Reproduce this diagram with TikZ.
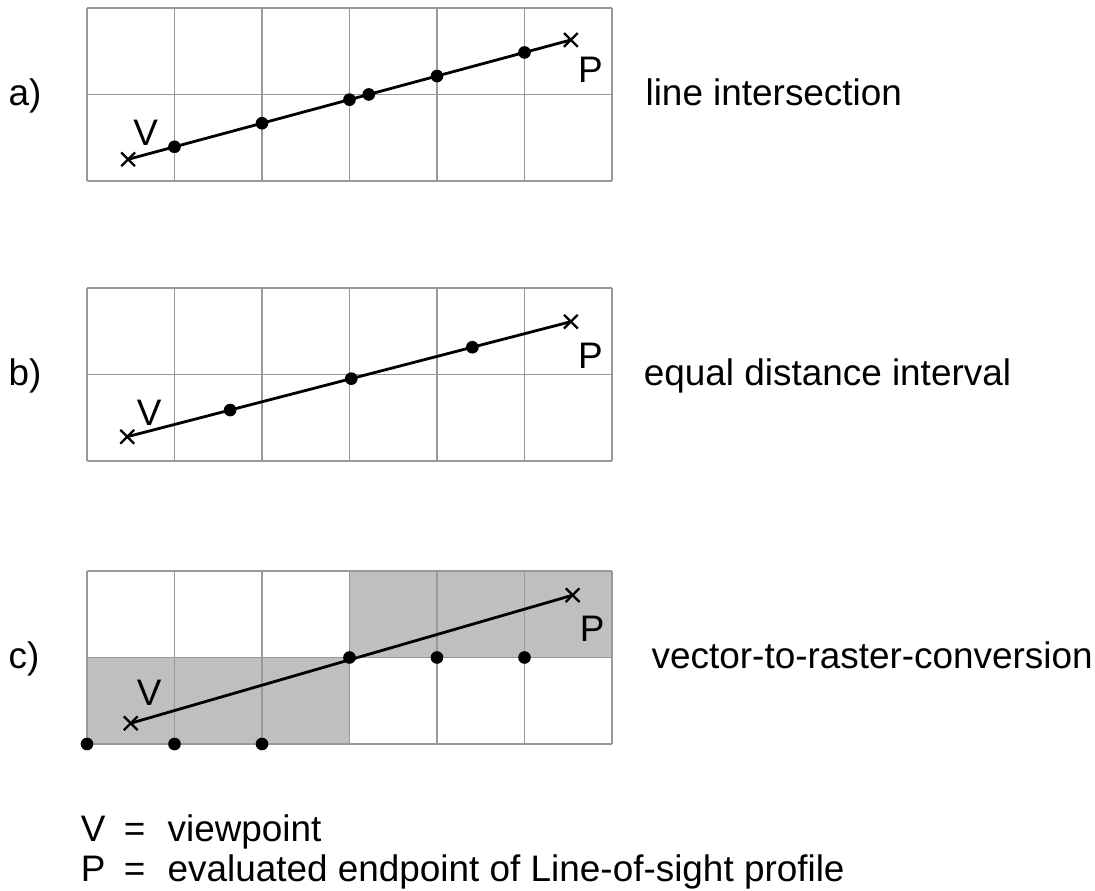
\documentclass[tikz,border=0pt]{standalone}
\usepackage{fontspec}
\setmainfont{Liberation Sans}
\usetikzlibrary{positioning,shapes.misc,calc}

\tikzset{
  cell/.style={step=1,black!40,line width=0.8pt},
  sight/.style={line width=1.6pt},
  endmark/.style={cross out,draw,line width=1.3pt,minimum size=0.23cm,inner sep=0pt},
  lbl/.style={inner sep=0pt,font=\fontsize{21}{25}\selectfont},
  caption/.style={lbl,anchor=base west},
  raster/.style={fill=black!25}
}

\begin{document}
\begin{tikzpicture}[x=1.75cm,y=1.73cm]
\useasboundingbox (0,0) rectangle (12.514,10.289);

% a) line intersection
\begin{scope}[shift={(0.994,8.197)}]
  \draw[cell] (0,0) grid (6,2);
  \node[endmark] (Va) at (0.47,0.25) {};
  \node[endmark] (Pa) at (5.53,1.63) {};
  \draw[sight] (Va.center) -- (Pa.center);
  \foreach \i in {1,...,5}
    \fill (intersection of Va.center--Pa.center and \i,0--\i,2) circle (3.6pt);
  \fill (intersection of Va.center--Pa.center and 0,1--6,1) circle (3.6pt);
  \node[lbl,above right=0.14cm and -0.04cm of Va] (Va-lbl) {V};
  \node[lbl,below right=0.2cm and 0cm of Pa] (Pa-lbl) {P};
  \node[caption] (a-tag) at (-0.9,0.87) {a)};
  \node[caption] (a-txt) at (6.38,0.87) {line intersection};
\end{scope}

% b) equal distance interval
\begin{scope}[shift={(0.994,4.96)}]
  \draw[cell] (0,0) grid (6,2);
  \node[endmark] (Vb) at (0.46,0.28) {};
  \node[endmark] (Pb) at (5.53,1.61) {};
  \draw[sight] (Vb.center) -- (Pb.center);
  \foreach \t in {0.232,0.505,0.778}
    \fill ($(Vb.center)!\t!(Pb.center)$) circle (3.6pt);
  \node[lbl,above right=0.07cm and 0.05cm of Vb] (Vb-lbl) {V};
  \node[lbl,below right=0.28cm and 0cm of Pb] (Pb-lbl) {P};
  \node[caption] (b-tag) at (-0.9,0.87) {b)};
  \node[caption] (b-txt) at (6.36,0.87) {equal distance interval};
\end{scope}

% c) vector-to-raster-conversion
\begin{scope}[shift={(0.994,1.688)}]
  \fill[raster] (0,0) rectangle (3,1);
  \fill[raster] (3,1) rectangle (6,2);
  \draw[cell] (0,0) grid (6,2);
  \node[endmark] (Vc) at (0.5,0.24) {};
  \node[endmark] (Pc) at (5.55,1.72) {};
  \draw[sight] (Vc.center) -- (Pc.center);
  \foreach \p in {(0,0),(1,0),(2,0),(3,1),(4,1),(5,1)}
    \fill \p circle (3.6pt);
  \node[lbl,above right=0.2cm and -0.02cm of Vc] (Vc-lbl) {V};
  \node[lbl,below right=0.27cm and 0cm of Pc] (Pc-lbl) {P};
  \node[caption] (c-tag) at (-0.9,0.87) {c)};
  \node[caption] (c-txt) at (6.45,0.87) {vector-to-raster-conversion};
\end{scope}

% legend
\node[caption] (key-V) at (0.92,0.56) {V\hspace{0.5em}=\hspace{0.6em}viewpoint};
\node[caption] (key-P) at (0.92,0.1) {P\hspace{0.5em}=\hspace{0.6em}evaluated endpoint of Line-of-sight profile};
\end{tikzpicture}
\end{document}
